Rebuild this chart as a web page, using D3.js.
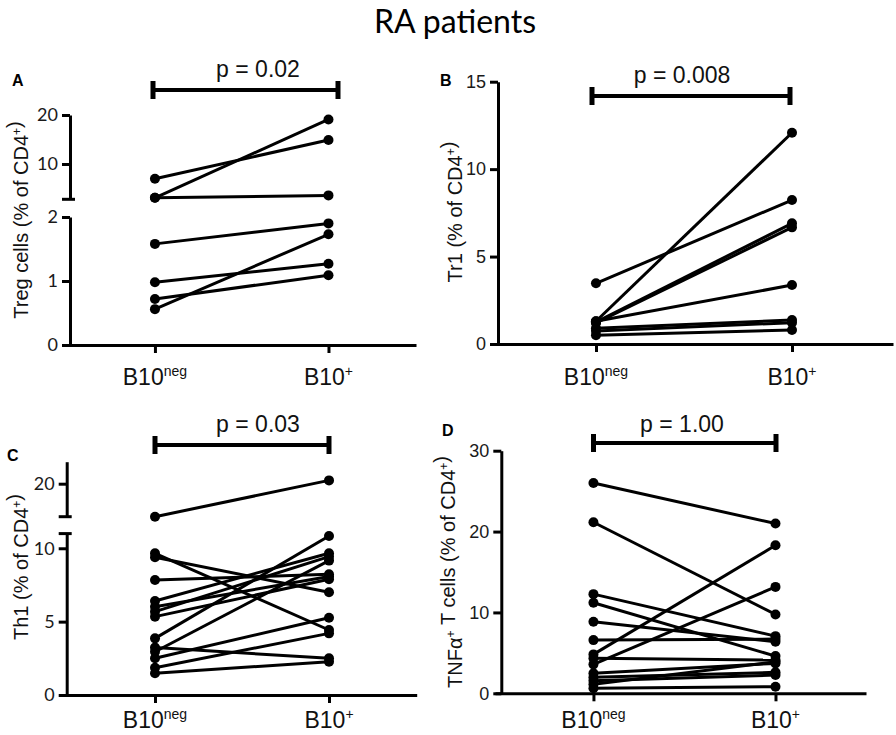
<!DOCTYPE html>
<html>
<head>
<meta charset="utf-8">
<script src="https://cdn.jsdelivr.net/npm/d3@7"></script>
<style>
  body { margin: 0; background: #fff; }
  svg { display: block; }
</style>
</head>
<body>
<script>
const w = 896;
const h = 735;

const categories = ["B10neg", "B10+"];

// values, one entry per patient (B10neg -> B10+)
const tregBefore = [7.0, 3.1, 3.1, 1.58, 0.98, 0.72, 0.56];
const tregAfter = [14.9, 19.1, 3.6, 1.9, 1.27, 1.09, 1.73];

const tr1Before = [3.47, 1.3, 1.25, 1.2, 1.3, 0.9, 0.75, 0.5];
const tr1After = [8.23, 12.08, 6.9, 6.67, 3.37, 1.37, 1.22, 0.8];

const th1Before = [17.0, 9.66, 9.39, 7.84, 6.41, 6.02, 5.68, 5.34, 3.86, 3.23, 2.95, 2.5, 1.86, 1.48];
const th1After = [20.3, 4.43, 7.0, 8.23, 9.66, 8.07, 9.43, 7.89, 10.84, 2.5, 9.16, 5.27, 4.2, 2.27];

const tnfBefore = [26.0, 21.15, 12.26, 11.19, 8.84, 6.58, 4.81, 4.32, 3.58, 2.47, 1.98, 1.56, 1.11, 0.62];
const tnfAfter = [20.99, 9.75, 7.07, 4.6, 6.37, 6.7, 18.3, 4.11, 13.16, 3.7, 2.59, 2.26, 3.9, 0.82];

const pLabels = ["p = 0.02", "p = 0.008", "p = 0.03", "p = 1.00"];

// tick labels
const tregTicksLow = [0, 1, 2];
const tregTicksHigh = [10, 20];
const tr1Ticks = [0, 5, 10, 15];
const th1TicksLow = [0, 5, 10];
const th1TicksHigh = [20];
const tnfTicks = [0, 10, 20, 30];

const sans = "'Liberation Sans', Arial, sans-serif";
const calib = "Lato, 'Open Sans', sans-serif";

const svg = d3.select("body").append("svg").attr("width", w).attr("height", h);

svg.append("text")
  .attr("x", 455)
  .attr("y", 33)
  .attr("text-anchor", "middle")
  .style("font-family", calib)
  .style("font-size", "32px")
  .text("RA patients");

// layout of each panel (pixels), data comes from the arrays above
const panels = [
  {
    letter: "A", lx: 12, ly: 86,
    before: tregBefore, after: tregAfter,
    axisX: 70, baseY: 345, xr: [62, 416], pad: 0.52, align: 0.515,
    segments: [
      { domain: [0, 2], range: [345, 217], ticks: tregTicksLow },
      { domain: [2.8, 20], range: [199.3, 115], ticks: tregTicksHigh, capBottom: true }
    ],
    tickFont: calib,
    title: ["Treg cells (% of CD4", ")"], tx: 21, ty: 220,
    p: pLabels[0], px: 258, py: 77, br: [153, 338], brY: 90,
    labelY: 385
  },
  {
    letter: "B", lx: 440, ly: 86,
    before: tr1Before, after: tr1After,
    axisX: 498, baseY: 344, xr: [490, 893], pad: 0.528, align: 0.512,
    segments: [
      { domain: [0, 15], range: [344, 81.7], ticks: tr1Ticks }
    ],
    tickFont: sans,
    title: ["Tr1 (% of CD4", ")"], tx: 455, ty: 212,
    p: pLabels[1], px: 682, py: 83, br: [592, 790], brY: 96,
    labelY: 385
  },
  {
    letter: "C", lx: 7, ly: 461,
    before: th1Before, after: th1After,
    axisX: 66.7, baseY: 695, xr: [60, 416.7], pad: 0.525, align: 0.52,
    segments: [
      { domain: [0, 11], range: [695, 533.6], ticks: th1TicksLow, capTop: true },
      { domain: [17, 22], range: [516.7, 461.7], ticks: th1TicksHigh, capBottom: true }
    ],
    tickFont: calib,
    title: ["Th1 (% of CD4", ")"], tx: 21, ty: 567,
    p: pLabels[2], px: 258, py: 432, br: [155, 329], brY: 445,
    labelY: 728
  },
  {
    letter: "D", lx: 442, ly: 436,
    before: tnfBefore, after: tnfAfter,
    axisX: 501.3, baseY: 693.3, xr: [495, 866], pad: 0.519, align: 0.521,
    segments: [
      { domain: [0, 30], range: [693.3, 450.7], ticks: tnfTicks }
    ],
    tickFont: sans,
    title: ["TNFα", " T cells (% of CD4", ")"], tx: 455, ty: 572,
    p: pLabels[3], px: 682, py: 432, br: [593.5, 776], brY: 443,
    labelY: 728
  }
];

panels.forEach(drawPanel);

function drawPanel(pn) {
  const g = svg.append("g");

  const xScale = d3.scalePoint()
    .domain(categories)
    .range(pn.xr)
    .padding(pn.pad)
    .align(pn.align);

  const yScales = pn.segments.map((s) =>
    d3.scaleLinear().domain(s.domain).range(s.range)
  );
  // broken axis: pick the segment the value belongs to
  function yPos(v) {
    for (let i = 0; i < pn.segments.length; i++) {
      const d = pn.segments[i].domain;
      if (v <= d[1] || i === pn.segments.length - 1) {
        if (v >= d[0] || i === 0) return yScales[i](v);
      }
    }
    return yScales[yScales.length - 1](v);
  }

  // y axis segments
  pn.segments.forEach((s, i) => {
    const ax = g.append("g")
      .attr("transform", "translate(" + pn.axisX + ",0)")
      .call(
        d3.axisLeft(yScales[i])
          .tickValues(s.ticks)
          .tickSize(8)
          .tickSizeOuter(0)
          .tickPadding(4)
          .tickFormat(d3.format("d"))
      );
    ax.select(".domain").attr("stroke-width", 3).attr("stroke", "#000");
    ax.selectAll(".tick line").attr("stroke-width", 3).attr("stroke", "#000");
    ax.selectAll(".tick text")
      .attr("fill", "#1a1a1a")
      .style("font-family", pn.tickFont)
      .style("font-size", "18px");

    // break caps
    if (s.capBottom) {
      g.append("line")
        .attr("x1", pn.axisX - 8).attr("x2", pn.axisX + 5)
        .attr("y1", yScales[i](s.domain[0])).attr("y2", yScales[i](s.domain[0]))
        .attr("stroke", "#000").attr("stroke-width", 3);
    }
    if (s.capTop) {
      g.append("line")
        .attr("x1", pn.axisX - 8).attr("x2", pn.axisX + 5)
        .attr("y1", yScales[i](s.domain[1])).attr("y2", yScales[i](s.domain[1]))
        .attr("stroke", "#000").attr("stroke-width", 3);
    }
  });

  // x axis
  const xa = g.append("g")
    .attr("transform", "translate(0," + pn.baseY + ")")
    .call(d3.axisBottom(xScale).tickSize(8).tickSizeOuter(0).tickFormat(""));
  xa.select(".domain").attr("stroke-width", 3).attr("stroke", "#000");
  xa.selectAll(".tick line").attr("stroke-width", 3).attr("stroke", "#000");

  // category labels with superscripts
  categories.forEach((c) => {
    const t = g.append("text")
      .attr("x", xScale(c))
      .attr("y", pn.labelY)
      .attr("text-anchor", "middle")
      .style("font-family", sans)
      .style("font-size", "23px")
      .attr("fill", "#111");
    t.append("tspan").text("B10");
    t.append("tspan")
      .attr("dy", -9)
      .style("font-size", "14px")
      .text(c.slice(3));
  });

  // paired lines
  const pairs = pn.before.map((b, i) => [b, pn.after[i]]);
  g.selectAll("line.pair")
    .data(pairs)
    .enter()
    .append("line")
    .attr("class", "pair")
    .attr("x1", xScale(categories[0]))
    .attr("x2", xScale(categories[1]))
    .attr("y1", (d) => yPos(d[0]))
    .attr("y2", (d) => yPos(d[1]))
    .attr("stroke", "#000")
    .attr("stroke-width", 3);

  // dots
  g.selectAll("circle.before")
    .data(pn.before)
    .enter()
    .append("circle")
    .attr("cx", xScale(categories[0]))
    .attr("cy", (d) => yPos(d))
    .attr("r", 5)
    .attr("fill", "#000");
  g.selectAll("circle.after")
    .data(pn.after)
    .enter()
    .append("circle")
    .attr("cx", xScale(categories[1]))
    .attr("cy", (d) => yPos(d))
    .attr("r", 5)
    .attr("fill", "#000");

  // significance bracket
  g.append("line")
    .attr("x1", pn.br[0]).attr("x2", pn.br[1])
    .attr("y1", pn.brY).attr("y2", pn.brY)
    .attr("stroke", "#000").attr("stroke-width", 4);
  pn.br.forEach((bx) => {
    g.append("line")
      .attr("x1", bx).attr("x2", bx)
      .attr("y1", pn.brY - 9).attr("y2", pn.brY + 9)
      .attr("stroke", "#000").attr("stroke-width", 5);
  });
  g.append("text")
    .attr("x", pn.px)
    .attr("y", pn.py)
    .attr("text-anchor", "middle")
    .style("font-family", sans)
    .style("font-size", "23px")
    .attr("fill", "#111")
    .text(pn.p);

  // panel letter
  g.append("text")
    .attr("x", pn.lx)
    .attr("y", pn.ly)
    .style("font-family", sans)
    .style("font-size", "16px")
    .style("font-weight", "bold")
    .text(pn.letter);

  // y axis title
  const tt = g.append("text")
    .attr("transform", "translate(" + pn.tx + "," + pn.ty + ") rotate(-90)")
    .attr("text-anchor", "middle")
    .attr("dy", "0.35em")
    .style("font-family", sans)
    .style("font-size", "20px")
    .attr("fill", "#111");
  pn.title.forEach((part, i) => {
    tt.append("tspan").text(part);
    if (i < pn.title.length - 1) {
      tt.append("tspan").attr("dy", -7).style("font-size", "12px").text("+");
      tt.append("tspan").attr("dy", 7).text("");
    }
  });
}
</script>
</body>
</html>
